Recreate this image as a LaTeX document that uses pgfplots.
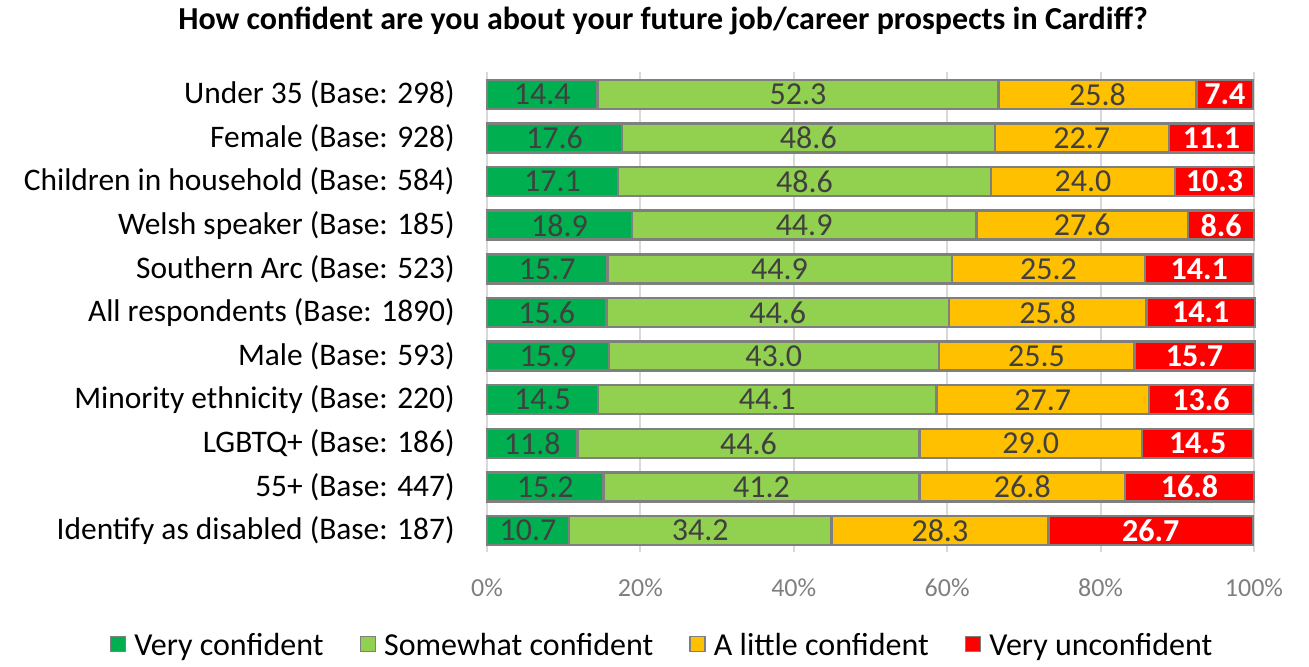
\documentclass[border=0pt]{standalone}
\usepackage{pgfplots}
\pgfplotsset{compat=1.18}
\usepackage{fontspec}
\setmainfont{Carlito}
\definecolor{vconf}{HTML}{00B050}
\definecolor{sconf}{HTML}{92D050}
\definecolor{lconf}{HTML}{FFC000}
\definecolor{uconf}{HTML}{FF0000}
\definecolor{edge}{HTML}{7F7F7F}
\definecolor{gridc}{HTML}{D9D9D9}
\definecolor{txt}{HTML}{404040}
\definecolor{tickc}{HTML}{7F7F7F}
\begin{document}
\begin{tikzpicture}
\begin{axis}[
    scale only axis,
    width=383.5pt, height=240pt,
    xbar stacked,
    bar width=14.5pt,
    xmin=0, xmax=100,
    ymin=-0.5, ymax=10.5,
    y dir=reverse,
    axis line style={draw=none},
    major tick length=0pt,
    xtick={0,20,40,60,80,100},
    xticklabels={0\%,20\%,40\%,60\%,80\%,100\%},
    xticklabel style={font=\fontsize{13}{15}\selectfont, text=tickc, inner sep=0pt, anchor=north, yshift=-13pt},
    xmajorgrids,
    grid style={gridc, line width=1pt},
    ytick={0,...,10},
    yticklabels={Under 35 (Base: 298), Female (Base: 928), Children in household (Base: 584),
        Welsh speaker (Base: 185), Southern Arc (Base: 523), All respondents (Base: 1890),
        Male (Base: 593), Minority ethnicity (Base: 220), LGBTQ+ (Base: 186),
        55+ (Base: 447), Identify as disabled (Base: 187)},
    yticklabel style={font=\fontsize{15.7}{19}\selectfont, text=black, inner sep=0pt, anchor=east, xshift=-16pt},
    /pgf/number format/assume math mode=true,
    nodes near coords={\pgfmathprintnumber[fixed,fixed zerofill,precision=1]{\pgfplotspointmeta}},
    every node near coord/.append style={font=\fontsize{16}{19}\selectfont, text=txt},
    legend columns=4,
    legend style={draw=none, fill=none, at={(rel axis cs:0.2295,-0.194)}, anchor=center,
        font=\fontsize{16}{19}\selectfont, column sep=0pt,
        /tikz/every odd column/.append style={column sep=2pt},
        /tikz/every even column/.append style={column sep=16pt}},
    legend image code/.code={\draw[#1, line width=0.8pt] (0pt,-3pt) rectangle (7.5pt,4.5pt);},
    clip=false,
]
\addplot[fill=vconf, draw=edge, line width=1.2pt] coordinates {
    (14.4,0) (17.6,1) (17.1,2) (18.9,3) (15.7,4) (15.6,5) (15.9,6) (14.5,7) (11.8,8) (15.2,9) (10.7,10)};
\addplot[fill=sconf, draw=edge, line width=1.2pt] coordinates {
    (52.3,0) (48.6,1) (48.6,2) (44.9,3) (44.9,4) (44.6,5) (43.0,6) (44.1,7) (44.6,8) (41.2,9) (34.2,10)};
\addplot[fill=lconf, draw=edge, line width=1.2pt] coordinates {
    (25.8,0) (22.7,1) (24.0,2) (27.6,3) (25.2,4) (25.8,5) (25.5,6) (27.7,7) (29.0,8) (26.8,9) (28.3,10)};
\addplot[fill=uconf, draw=edge, line width=1.2pt,
    every node near coord/.append style={text=white, font=\fontsize{16}{19}\selectfont\bfseries}] coordinates {
    (7.4,0) (11.1,1) (10.3,2) (8.6,3) (14.1,4) (14.1,5) (15.7,6) (13.6,7) (14.5,8) (16.8,9) (26.7,10)};
\legend{Very confident, Somewhat confident, A little confident, Very unconfident}
\node[font=\fontsize{16}{19}\selectfont\bfseries] at (rel axis cs:0.2295,1.108) {How confident are you about your future job/career prospects in Cardiff?};
\coordinate (bbl) at (rel axis cs:-0.6349,-0.2271);
\coordinate (bbr) at (rel axis cs:1.0717,1.15);
\end{axis}
\path (bbl) rectangle (bbr);
\end{tikzpicture}
\end{document}
